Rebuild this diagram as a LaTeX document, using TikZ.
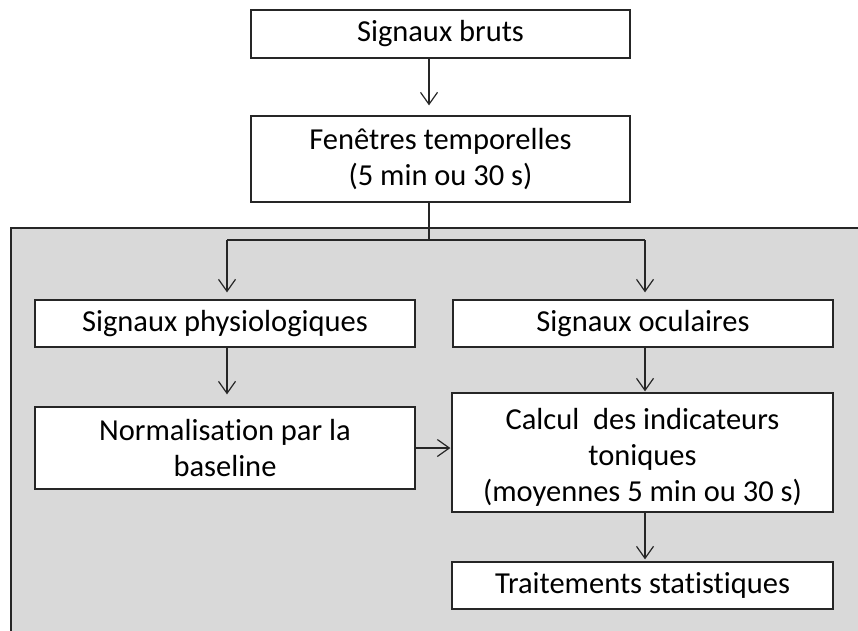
\documentclass[tikz,border=0pt]{standalone}
\usepackage{fontspec}
\setmainfont{Carlito}[Ligatures={NoCommon}]
\usetikzlibrary{arrows.meta}
\definecolor{panelgray}{HTML}{D9D9D9}
\definecolor{lineclr}{HTML}{262626}
\begin{document}
\begin{tikzpicture}[x=1pt,y=-1pt,
  box/.style={draw=lineclr, line width=1.3pt, fill=white, inner sep=0pt,
    align=center, font=\fontsize{30.5}{36}\selectfont, text=black},
  conn/.style={draw=lineclr, line width=1.2pt},
  arr/.style={conn, -{Straight Barb[length=12pt,width=17pt,line width=1.2pt]}}]
\useasboundingbox (0,0) rectangle (858,630);
\clip (0,0) rectangle (858,630);
% grey panel
\draw[fill=panelgray, draw=lineclr, line width=1.3pt] (11,228) rectangle (880,660);
% nodes
\node[box, minimum width=379pt, minimum height=48pt] (bruts) at (440.5,34) {Signaux bruts};
\node[box, minimum width=379pt, minimum height=86pt] (fen) at (440.5,159) {Fenêtres temporelles\\(5 min ou 30 s)};
\node[box, minimum width=380pt, minimum height=47pt] (phys) at (225,323.5) {Signaux physiologiques};
\node[box, minimum width=380pt, minimum height=47pt] (ocul) at (643,323.5) {Signaux oculaires};
\node[box, minimum width=380pt, minimum height=82pt] (norm) at (225,448) {Normalisation par la\\baseline};
\node[box, minimum width=381pt, minimum height=119pt] (calc) at (642.5,452.5) {\raisebox{-12pt}[0pt][0pt]{\begin{tabular}{@{}c@{}}Calcul\ \ des indicateurs\\toniques\\(moyennes 5 min ou 30 s)\end{tabular}}};
\node[box, minimum width=381pt, minimum height=47pt] (trait) at (642.5,585.5) {Traitements statistiques};
% fork coordinates
\coordinate (fork) at (429,240);
\coordinate (forkL) at (227,240);
\coordinate (forkR) at (645,240);
% connectors
\draw[arr] (bruts.south -| fork) -- ([yshift=10pt]fork |- fen.north);
\draw[conn] (fen.south -| fork) -- (fork);
\draw[conn] (forkL) -- (forkR);
\draw[arr] (forkL) -- ([yshift=7pt]forkL |- phys.north);
\draw[arr] (forkR) -- ([yshift=7pt]forkR |- ocul.north);
\draw[arr] (phys.south -| forkL) -- ([yshift=12pt]forkL |- norm.north);
\draw[arr] (ocul.south -| forkR) -- ([yshift=1pt]forkR |- calc.north);
\draw[arr] (norm.east) -- ([xshift=-1pt]calc.west |- norm.east);
\draw[arr] (calc.south -| forkR) -- ([yshift=2pt]forkR |- trait.north);
\end{tikzpicture}
\end{document}
